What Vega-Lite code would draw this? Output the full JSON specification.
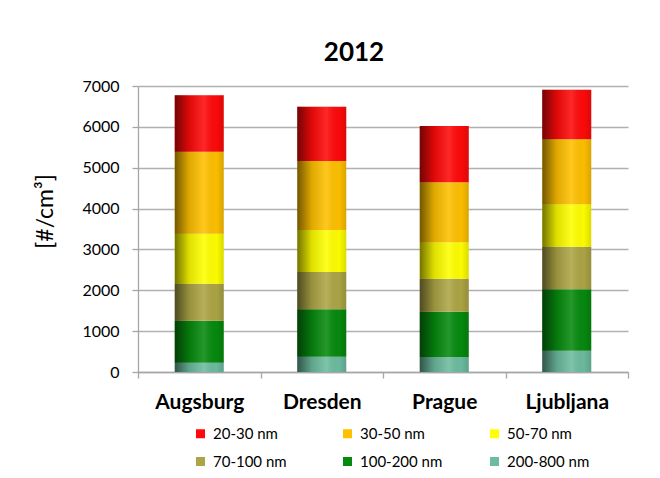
{
  "$schema": "https://vega.github.io/schema/vega-lite/v6.json",
  "autosize": {"type": "none"},
  "width": 490,
  "height": 286,
  "padding": {"left": 138, "top": 86, "right": 32, "bottom": 106},
  "background": "white",
  "title": {
    "text": "2012",
    "font": "Lato",
    "fontSize": 26,
    "fontWeight": "bold",
    "color": "#000000",
    "anchor": "middle",
    "dx": -29,
    "dy": 24,
    "baseline": "alphabetic",
    "offset": 15
  },
  "data": {
    "values": [
      {"city": "Augsburg", "size": "200-800 nm", "rank": 1, "value": 228},
      {"city": "Augsburg", "size": "100-200 nm", "rank": 2, "value": 1028},
      {"city": "Augsburg", "size": "70-100 nm", "rank": 3, "value": 905},
      {"city": "Augsburg", "size": "50-70 nm", "rank": 4, "value": 1224},
      {"city": "Augsburg", "size": "30-50 nm", "rank": 5, "value": 2007},
      {"city": "Augsburg", "size": "20-30 nm", "rank": 6, "value": 1380},
      {"city": "Dresden", "size": "200-800 nm", "rank": 1, "value": 375},
      {"city": "Dresden", "size": "100-200 nm", "rank": 2, "value": 1159},
      {"city": "Dresden", "size": "70-100 nm", "rank": 3, "value": 913},
      {"city": "Dresden", "size": "50-70 nm", "rank": 4, "value": 1028},
      {"city": "Dresden", "size": "30-50 nm", "rank": 5, "value": 1689},
      {"city": "Dresden", "size": "20-30 nm", "rank": 6, "value": 1329},
      {"city": "Prague", "size": "200-800 nm", "rank": 1, "value": 367},
      {"city": "Prague", "size": "100-200 nm", "rank": 2, "value": 1109},
      {"city": "Prague", "size": "70-100 nm", "rank": 3, "value": 808},
      {"city": "Prague", "size": "50-70 nm", "rank": 4, "value": 890},
      {"city": "Prague", "size": "30-50 nm", "rank": 5, "value": 1468},
      {"city": "Prague", "size": "20-30 nm", "rank": 6, "value": 1379},
      {"city": "Ljubljana", "size": "200-800 nm", "rank": 1, "value": 521},
      {"city": "Ljubljana", "size": "100-200 nm", "rank": 2, "value": 1503},
      {"city": "Ljubljana", "size": "70-100 nm", "rank": 3, "value": 1043},
      {"city": "Ljubljana", "size": "50-70 nm", "rank": 4, "value": 1037},
      {"city": "Ljubljana", "size": "30-50 nm", "rank": 5, "value": 1591},
      {"city": "Ljubljana", "size": "20-30 nm", "rank": 6, "value": 1214}
    ]
  },
  "encoding": {
    "x": {
      "field": "city",
      "type": "nominal",
      "sort": ["Augsburg", "Dresden", "Prague", "Ljubljana"],
      "scale": {"paddingInner": 0, "paddingOuter": 0},
      "axis": {
        "title": null,
        "labelAngle": 0,
        "labelFont": "Lato",
        "labelFontSize": 21,
        "labelFontWeight": "bold",
        "labelColor": "#000000",
        "labelPadding": 13,
        "tickBand": "extent",
        "tickSize": 6,
        "tickColor": "#a6a6a6",
        "domainColor": "#a6a6a6",
        "grid": false
      }
    }
  },
  "layer": [
    {
      "mark": {"type": "bar", "width": {"band": 0.4}},
      "encoding": {
        "y": {
          "field": "value",
          "type": "quantitative",
          "stack": "zero",
          "scale": {"domain": [0, 7000], "nice": false},
          "axis": {
            "title": "[#/cm³]",
            "titleFont": "Lato",
            "titleFontSize": 23,
            "titleFontWeight": "normal",
            "titleColor": "#000000",
            "titleX": -81,
            "titleY": 125,
            "titleAngle": -90,
            "titleAlign": "center",
            "titleBaseline": "bottom",
            "values": [0, 1000, 2000, 3000, 4000, 5000, 6000, 7000],
            "format": "d",
            "labelFont": "Lato",
            "labelFontSize": 16,
            "labelColor": "#000000",
            "labelPadding": 13,
            "tickSize": 6,
            "tickColor": "#a6a6a6",
            "domainColor": "#a6a6a6",
            "gridColor": "#b0b0b0",
            "gridWidth": 1.3
          }
        },
        "color": {
          "field": "size",
          "type": "nominal",
          "scale": {
            "domain": ["20-30 nm", "30-50 nm", "50-70 nm", "70-100 nm", "100-200 nm", "200-800 nm"],
            "range": ["#ff0a0a", "#ffc000", "#ffff00", "#ada545", "#068a0e", "#6cbca0"]
          },
          "legend": {
            "title": null,
            "orient": "none",
            "legendX": 55,
            "legendY": 340,
            "direction": "horizontal",
            "columns": 3,
            "gridAlign": "all",
            "columnPadding": 44,
            "rowPadding": 12,
            "symbolType": "square",
            "symbolSize": 81,
            "symbolStrokeWidth": 0,
            "labelFont": "Lato",
            "labelFontSize": 15,
            "labelColor": "#000000",
            "labelOffset": 5
          }
        },
        "order": {"field": "rank", "type": "quantitative", "sort": "ascending"}
      }
    },
    {
      "mark": {
        "type": "bar",
        "width": {"band": 0.4},
        "fill": {
          "gradient": "linear",
          "x1": 0, "y1": 0, "x2": 1, "y2": 0,
          "stops": [
            {"offset": 0, "color": "rgba(0,0,0,0.55)"},
            {"offset": 0.3, "color": "rgba(0,0,0,0.12)"},
            {"offset": 0.6, "color": "rgba(255,255,255,0.12)"},
            {"offset": 0.85, "color": "rgba(0,0,0,0.02)"},
            {"offset": 1, "color": "rgba(0,0,0,0.14)"}
          ]
        }
      },
      "encoding": {
        "y": {"aggregate": "sum", "field": "value", "type": "quantitative"}
      }
    }
  ],
  "config": {
    "view": {"stroke": null},
    "axis": {"domainWidth": 1.3, "tickWidth": 1.3}
  }
}
